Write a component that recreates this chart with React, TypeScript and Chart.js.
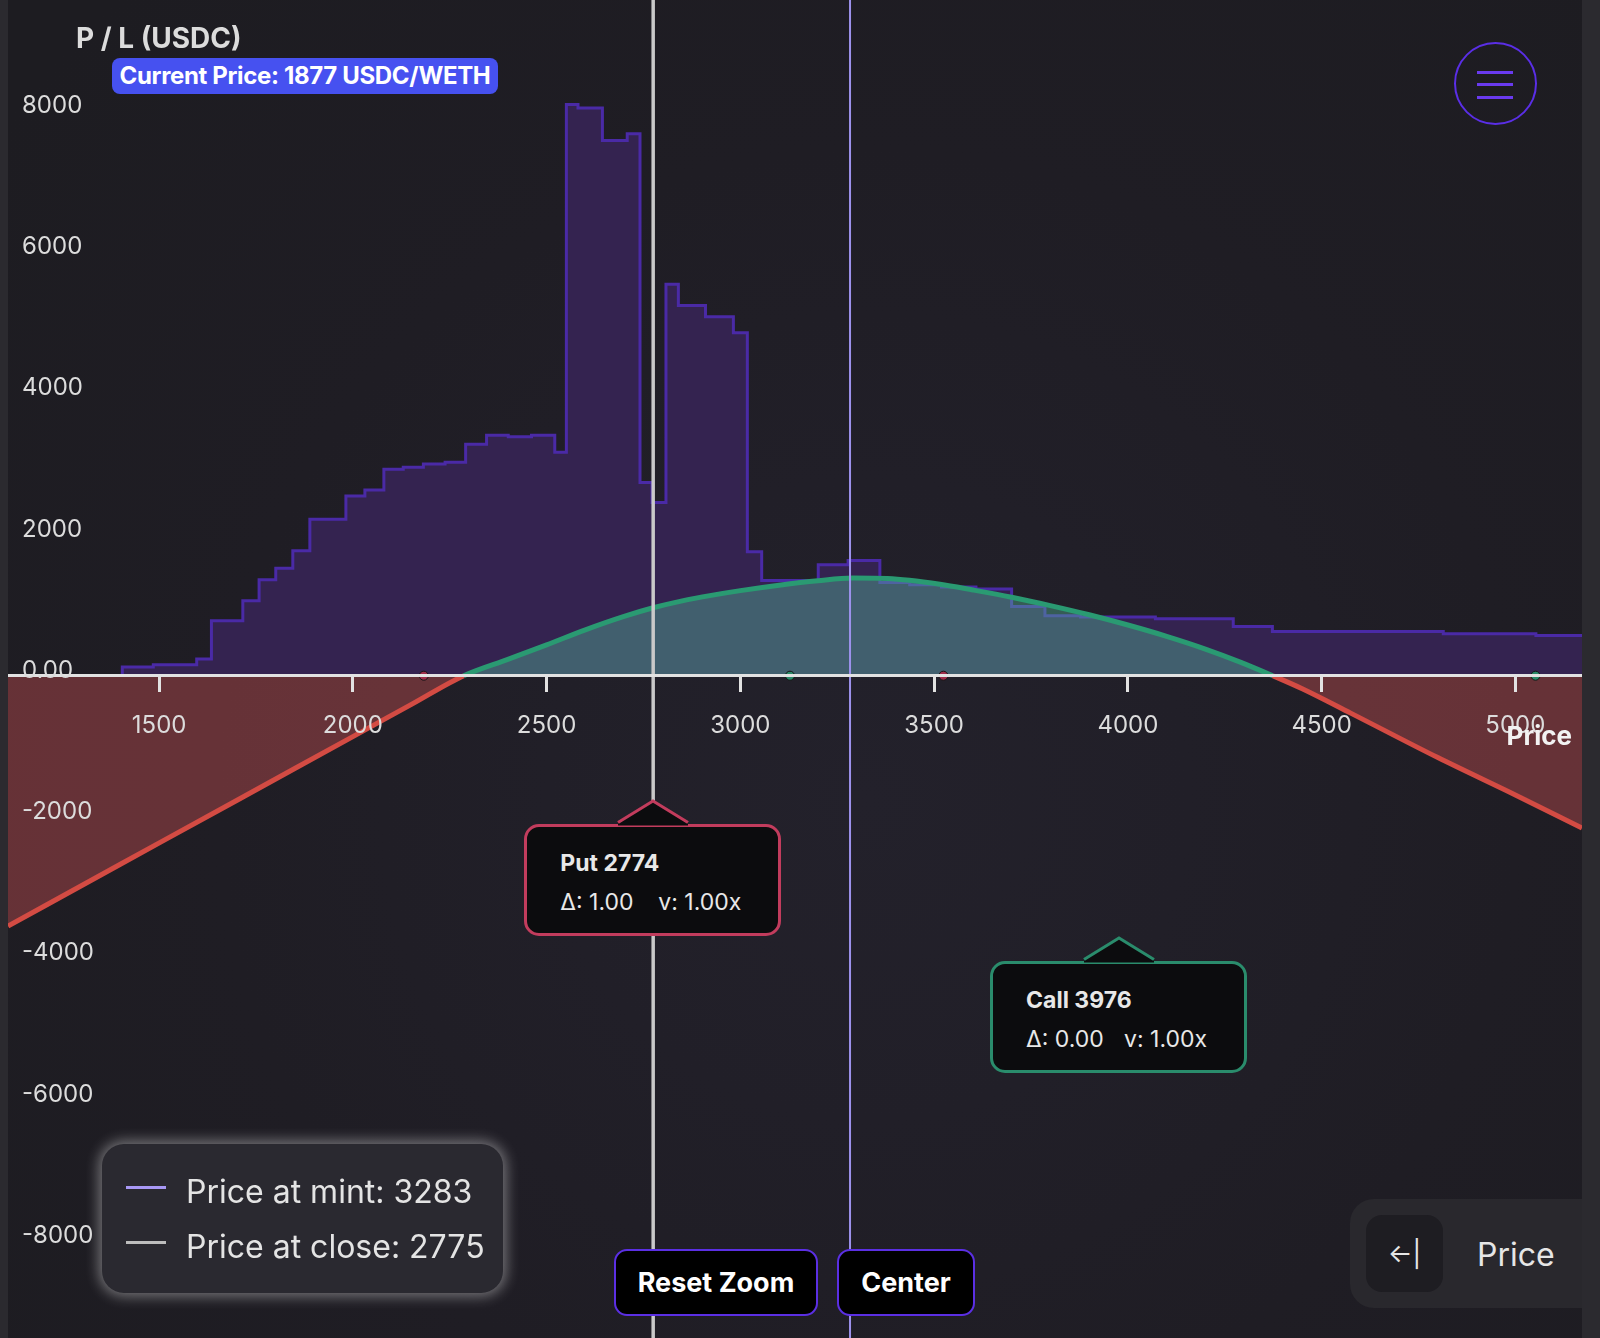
import React, { useEffect, useRef, useState } from 'react';
import { Chart, registerables } from 'chart.js';

Chart.register(...registerables);

// ---------------- data ----------------
const priceMin = 1110;
const priceMax = 5172;
const plMin = -9380;
const plMax = 9570;
const xTickValues = [1500, 2000, 2500, 3000, 3500, 4000, 4500, 5000];
const yTickValues = [-8000, -6000, -4000, -2000, 0, 2000, 4000, 6000, 8000];

// liquidity histogram: bin start prices and heights (read on the P/L axis)
const histEdges = [
  1405, 1485, 1597, 1635, 1716, 1758, 1801, 1845, 1889, 1982, 2031, 2080, 2130, 2182, 2238, 2291,
  2345, 2401, 2461, 2521, 2551, 2581, 2644, 2708, 2741, 2772, 2808, 2840, 2910, 2982, 3018, 3055,
  3201, 3278, 3360, 3437, 3519, 3608, 3700, 3786, 3878, 4071, 4272, 4373, 4814, 5053,
];
const histLiquidity = [
  123, 156, 236, 778, 1061, 1358, 1523, 1768, 2216, 2546, 2631, 2923, 2952, 2998, 3022, 3277,
  3404, 3385, 3404, 3164, 8091, 8039, 7581, 7676, 2735, 2452, 5545, 5243, 5083, 4856, 1754, 1350,
  1570, 1631, 1320, 1287, 1255, 1228, 980, 849, 830, 808, 698, 627, 594, 570,
];
const histLastEdge = 5200;

// P/L curve
const plPrices = [
  1110, 1400, 1700, 2000, 2150, 2286, 2400, 2500, 2600, 2700, 2775, 2850, 2925, 3000, 3100, 3200,
  3290, 3380, 3515, 3600, 3700, 3800, 3900, 4000, 4100, 4200, 4290, 4374, 4450, 4575, 4800, 5000,
  5172,
];
const plValues = [
  -3545, -2671, -1767, -862, -410, 0, 232, 437, 650, 840, 962, 1060, 1138, 1205, 1282, 1345,
  1383, 1376, 1296, 1215, 1112, 993, 863, 718, 558, 378, 193, 0, -185, -530, -1160, -1690,
  -2156,
];

const priceAtMint = 3283;
const priceAtClose = 2775;
const currentPrice = 1877;

const markerPrices = [2183, 3128, 3524, 5052];
const markerKinds = ['put', 'call', 'put', 'call'];

const optionKinds = ['Put', 'Call'];
const optionStrikes = [2774, 3976];
const optionDeltas = ['1.00', '0.00'];
const optionSizes = ['1.00x', '1.00x'];
const optionAnchorPL = [-1771, -3710];

// ---------------- styles ----------------
const FONT = 'Inter, "Noto Sans", sans-serif';
const RED = '#d34b43';
const GREEN = '#2a9a72';
const PUT_COLOR = '#c23c5d';
const CALL_COLOR = '#2a8c6c';
const CHART_LEFT = 8;
const CHART_WIDTH = 1574;
const CHART_HEIGHT = 1338;

type Anchor = { x: number; y: number };

function OptionTip(props: {
  anchor: Anchor;
  kind: string;
  strike: number;
  delta: string;
  size: string;
  color: string;
}) {
  const { anchor, kind, strike, delta, size, color } = props;
  const W = 257;
  const H = 112;
  const AH = 23;
  return (
    <>
      <div
        style={{
          position: 'absolute',
          left: anchor.x - W / 2,
          top: anchor.y + AH,
          width: W,
          height: H,
          boxSizing: 'border-box',
          border: `3px solid ${color}`,
          borderRadius: 15,
          background: '#0c0c0e',
          color: '#e8e8e8',
          fontFamily: FONT,
        }}
      >
        <div
          style={{
            position: 'absolute',
            left: 33,
            top: 25,
            fontSize: 23,
            lineHeight: '23px',
            fontWeight: 700,
            whiteSpace: 'nowrap',
          }}
        >
          {kind} {strike}
        </div>
        <div
          style={{
            position: 'absolute',
            left: 33,
            top: 64,
            fontSize: 23,
            lineHeight: '23px',
            fontWeight: 400,
            whiteSpace: 'nowrap',
          }}
        >
          <span style={{ display: 'inline-block', width: 98 }}>Δ: {delta}</span>
          <span>v: {size}</span>
        </div>
      </div>
      <svg
        width={80}
        height={30}
        style={{ position: 'absolute', left: anchor.x - 40, top: anchor.y - 3 }}
      >
        <polygon points="5,24.5 40,3 75,24.5 75,27.5 5,27.5" fill="#0c0c0e" />
        <polyline
          points="5,24.5 40,3 75,24.5"
          fill="none"
          stroke={color}
          strokeWidth={3}
          strokeLinejoin="miter"
        />
      </svg>
    </>
  );
}

export default function App() {
  const canvasRef = useRef<HTMLCanvasElement | null>(null);
  const [anchors, setAnchors] = useState<Anchor[]>([]);

  useEffect(() => {
    document.body.style.margin = '0';
    document.body.style.background = '#2b2a2f';
    const canvas = canvasRef.current;
    if (!canvas) return;

    const histData = [{ x: histEdges[0], y: 0 }]
      .concat(histEdges.map((e, i) => ({ x: e, y: histLiquidity[i] })))
      .concat([{ x: histLastEdge, y: histLiquidity[histLiquidity.length - 1] }]);
    const plData = plPrices.map((p, i) => ({ x: p, y: plValues[i] }));

    const chart = new Chart(canvas, {
      type: 'line',
      data: {
        datasets: [
          {
            label: 'markers',
            data: markerPrices.map((p) => ({ x: p, y: 0 })),
            showLine: false,
            pointRadius: 4.5,
            pointBackgroundColor: markerKinds.map((k) => (k === 'put' ? '#9e2e4b' : '#2a8a69')),
            pointBorderColor: '#151515',
            pointBorderWidth: 1,
            order: 0,
          } as any,
          {
            label: 'Price at close',
            data: [
              { x: priceAtClose, y: plMin },
              { x: priceAtClose, y: plMax },
            ],
            borderColor: '#c9c9c9',
            borderWidth: 3.5,
            pointRadius: 0,
            fill: false,
            order: 1,
          },
          {
            label: 'Price at mint',
            data: [
              { x: priceAtMint, y: plMin },
              { x: priceAtMint, y: plMax },
            ],
            borderColor: '#9d92ec',
            borderWidth: 2,
            pointRadius: 0,
            fill: false,
            order: 2,
          },
          {
            label: 'P / L',
            data: plData,
            borderWidth: 5,
            pointRadius: 0,
            cubicInterpolationMode: 'monotone',
            borderColor: GREEN,
            segment: {
              borderColor: (ctx: any) =>
                (ctx.p0.parsed.y + ctx.p1.parsed.y) / 2 < 0 ? RED : GREEN,
            },
            fill: {
              target: 'origin',
              above: 'rgba(85,185,155,0.4)',
              below: 'rgba(211,82,86,0.4)',
            },
            order: 3,
          } as any,
          {
            label: 'Liquidity',
            data: histData,
            stepped: true,
            borderColor: '#4a2aa6',
            borderWidth: 3,
            backgroundColor: '#342350',
            pointRadius: 0,
            fill: 'origin',
            order: 4,
          } as any,
        ],
      },
      options: {
        animation: false,
        responsive: true,
        maintainAspectRatio: false,
        events: [],
        layout: { padding: 0, autoPadding: false },
        plugins: {
          legend: { display: false },
          tooltip: { enabled: false },
        },
        scales: {
          x: {
            type: 'linear',
            min: priceMin,
            max: priceMax,
            position: { y: 0 } as any,
            border: { display: true, color: '#e2e2e2', width: 3, z: 1 },
            grid: {
              display: true,
              drawOnChartArea: false,
              drawTicks: true,
              tickLength: 15,
              color: '#e2e2e2',
              lineWidth: 3,
              z: 1,
            },
            afterBuildTicks: (s: any) => {
              s.ticks = xTickValues.map((v) => ({ value: v }));
            },
            ticks: {
              z: 1,
              autoSkip: false,
              maxRotation: 0,
              padding: 21,
              color: '#dcdcdc',
              font: { family: FONT, size: 24 },
              callback: (v: any) => String(v),
            },
            afterFit: (s: any) => {
              s.paddingLeft = 0;
              s.paddingRight = 0;
            },
          } as any,
          y: {
            type: 'linear',
            min: plMin,
            max: plMax,
            position: 'left',
            border: { display: false },
            grid: { display: false, drawTicks: false },
            afterBuildTicks: (s: any) => {
              s.ticks = yTickValues.map((v) => ({ value: v }));
            },
            ticks: {
              z: 1,
              autoSkip: false,
              mirror: true,
              padding: 14,
              labelOffset: -5,
              color: '#dcdcdc',
              font: { family: FONT, size: 24 },
              callback: (v: any) => (v === 0 ? '0.00' : String(v)),
            },
            afterFit: (s: any) => {
              s.width = 0;
              s.paddingTop = 0;
              s.paddingBottom = 0;
            },
          } as any,
        },
      },
    });

    const xs = chart.scales.x;
    const ys = chart.scales.y;
    setAnchors(
      optionStrikes.map((s, i) => ({
        x: xs.getPixelForValue(s) + CHART_LEFT,
        y: ys.getPixelForValue(optionAnchorPL[i]),
      }))
    );

    return () => {
      chart.destroy();
    };
  }, []);

  return (
    <div
      style={{
        position: 'relative',
        width: 1600,
        height: 1338,
        overflow: 'hidden',
        fontFamily: FONT,
        background: '#2b2a2f',
      }}
    >
      <div
        style={{
          position: 'absolute',
          left: CHART_LEFT,
          top: 0,
          width: CHART_WIDTH,
          height: CHART_HEIGHT,
          background:
            'radial-gradient(circle at 860px 800px, #23212b 0px, #211f28 320px, #1f1d24 650px, #1d1c21 1100px)',
        }}
      >
        <canvas ref={canvasRef} />
      </div>

      {/* x axis title */}
      <div
        style={{
          position: 'absolute',
          right: 28,
          top: 723,
          fontSize: 26,
          lineHeight: '26px',
          fontWeight: 700,
          color: '#f2f2f2',
          whiteSpace: 'nowrap',
        }}
      >
        Price
      </div>

      {/* y axis title */}
      <div
        style={{
          position: 'absolute',
          left: 76,
          top: 24,
          fontSize: 28,
          lineHeight: '28px',
          fontWeight: 700,
          color: '#dcdcdc',
          whiteSpace: 'nowrap',
        }}
      >
        P / L (USDC)
      </div>

      {/* current price badge */}
      <div
        style={{
          position: 'absolute',
          left: 112,
          top: 58,
          width: 386,
          height: 36,
          borderRadius: 8,
          background: '#4651f0',
          color: '#ffffff',
          fontSize: 24,
          fontWeight: 700,
          letterSpacing: -0.35,
          lineHeight: '36px',
          textAlign: 'center',
          whiteSpace: 'nowrap',
        }}
      >
        Current Price: {currentPrice} USDC/WETH
      </div>

      {/* menu button */}
      <div
        style={{
          position: 'absolute',
          left: 1454,
          top: 42,
          width: 83,
          height: 83,
          boxSizing: 'border-box',
          borderRadius: '50%',
          border: '2px solid #5a2ee6',
        }}
      >
        {[28, 40, 53].map((t) => (
          <div
            key={t}
            style={{
              position: 'absolute',
              left: 21,
              top: t - 1.5,
              width: 36,
              height: 3,
              background: '#6a3af0',
            }}
          />
        ))}
      </div>

      {/* option tooltips */}
      {anchors.map((a, i) => (
        <OptionTip
          key={i}
          anchor={a}
          kind={optionKinds[i]}
          strike={optionStrikes[i]}
          delta={optionDeltas[i]}
          size={optionSizes[i]}
          color={i === 0 ? PUT_COLOR : CALL_COLOR}
        />
      ))}

      {/* legend */}
      <div
        style={{
          position: 'absolute',
          left: 102,
          top: 1144,
          width: 401,
          height: 149,
          borderRadius: 22,
          background: '#2a2930',
          boxShadow: '0 0 14px 3px rgba(255,255,255,0.4)',
          color: '#e4e4e4',
          fontSize: 32,
        }}
      >
        <div style={{ position: 'absolute', left: 24, top: 42, width: 40, height: 3, background: '#a898f5' }} />
        <div style={{ position: 'absolute', left: 84, top: 32, lineHeight: '32px', whiteSpace: 'nowrap' }}>
          Price at mint: {priceAtMint}
        </div>
        <div style={{ position: 'absolute', left: 24, top: 97, width: 40, height: 3, background: '#bdbdbd' }} />
        <div style={{ position: 'absolute', left: 84, top: 87, lineHeight: '32px', whiteSpace: 'nowrap' }}>
          Price at close: {priceAtClose}
        </div>
      </div>

      {/* buttons */}
      {[
        { label: 'Reset Zoom', left: 614, width: 204 },
        { label: 'Center', left: 837, width: 138 },
      ].map((b) => (
        <div
          key={b.label}
          style={{
            position: 'absolute',
            left: b.left,
            top: 1249,
            width: b.width,
            height: 67,
            boxSizing: 'border-box',
            border: '2px solid #5b2fe3',
            borderRadius: 13,
            background: '#000000',
            color: '#ffffff',
            fontSize: 27,
            fontWeight: 700,
            lineHeight: '63px',
            textAlign: 'center',
            whiteSpace: 'nowrap',
          }}
        >
          {b.label}
        </div>
      ))}

      {/* bottom-right axis panel */}
      <div
        style={{
          position: 'absolute',
          left: 1350,
          top: 1199,
          width: 232,
          height: 109,
          borderRadius: '24px 0 0 24px',
          background: '#29282d',
        }}
      >
        <div
          style={{
            position: 'absolute',
            left: 16,
            top: 16,
            width: 77,
            height: 77,
            borderRadius: 16,
            background: '#1e1d22',
            color: '#e6e6e6',
            fontSize: 26,
            lineHeight: '77px',
            textAlign: 'center',
          }}
        >
          ←|
        </div>
        <div
          style={{
            position: 'absolute',
            left: 127,
            top: 40,
            fontSize: 32,
            lineHeight: '32px',
            color: '#e6e6e6',
          }}
        >
          Price
        </div>
      </div>
    </div>
  );
}
